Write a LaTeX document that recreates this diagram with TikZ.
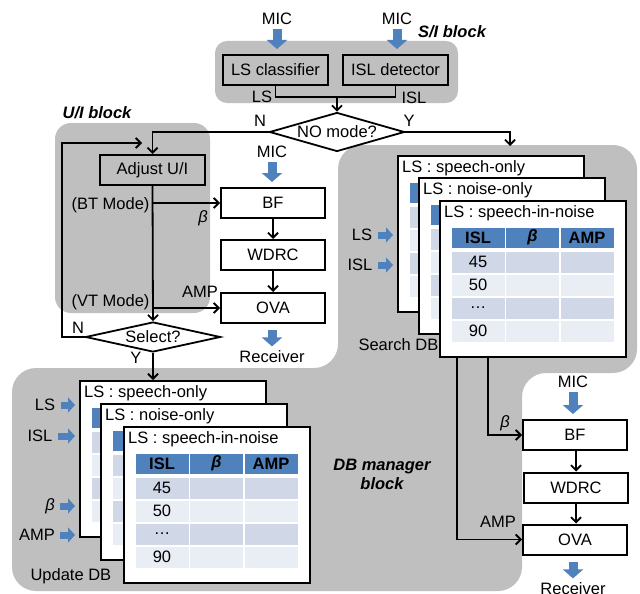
\documentclass[tikz,border=0pt]{standalone}
\usepackage{fontspec}
\setmainfont{Liberation Sans}
\usetikzlibrary{arrows.meta,shapes.geometric}

\definecolor{blockgray}{RGB}{191,191,191}
\definecolor{arrowblue}{RGB}{79,129,189}
\definecolor{headblue}{RGB}{79,129,189}
\definecolor{bandA}{RGB}{208,216,232}
\definecolor{bandB}{RGB}{233,237,244}

\newcommand{\figfont}{\fontsize{16.5}{19}\selectfont}

\tikzset{
  box/.style={draw, line width=2pt, minimum width=104pt, minimum height=30pt, inner sep=0pt},
  decision/.style={draw, diamond, line width=1.8pt, fill=white, inner sep=0pt},
  wire/.style={line width=1.8pt},
  conn/.style={line width=1.8pt, -{Straight Barb[length=5pt,width=10pt]}},
  bigarrow/.style={draw=arrowblue, line width=9pt, -{Triangle[length=9pt,width=20pt]},
    shorten <=1pt, shorten >=5pt},
  smallarrow/.style={draw=arrowblue, line width=7pt, -{Triangle[length=7pt,width=15pt]},
    shorten <=2pt, shorten >=4pt},
  dbframe/.style={draw, line width=1.5pt, fill=white, anchor=north west,
    minimum width=186pt, minimum height=156pt, inner sep=0pt},
  blockname/.style={font=\figfont\bfseries\itshape}
}

% one LS table: name, x, y (top left), LS type, 1 = write the cells
\newcommand{\dbtable}[5]{%
  \node[dbframe] (#1) at (#2,#3) {};
  \node[anchor=west, inner sep=0pt] (#1title) at (#2+5,#3+13) {LS : #4};
  \foreach \col/\head in {0/ISL, 1/\itshape β, 2/AMP} {
    \fill[headblue] (#2+12.5+54.5*\col,#3+27.5) rectangle ++(53,20);
    \ifnum#5=1
      \node[font=\figfont\bfseries] (#1h\col) at (#2+39+54.5*\col,#3+37.5) {\head};
    \fi
  }
  \foreach \row/\isl/\bandcol in {0/45/bandA, 1/50/bandB, 2/\ldots/bandA, 3/90/bandB} {
    \foreach \col in {0,1,2}
      \fill[\bandcol] (#2+12.5+54.5*\col,#3+51.5+23*\row) rectangle ++(53,21);
    \ifnum#5=1
      \node (#1r\row) at (#2+39,#3+62+23*\row) {\isl};
    \fi
  }
}

\begin{document}
\begin{tikzpicture}[x=1pt,y=-1pt,font=\figfont]
\useasboundingbox (0,0) rectangle (640,594);

% grey block backgrounds
\fill[blockgray, rounded corners=24pt] (12,368) -- (338,368) -- (338,145) -- (637,145)
  -- (637,373) -- (522,373) -- (522,591) -- (12,591) -- cycle;
\fill[blockgray, rounded corners=16pt] (55,123) rectangle (210,313);
\fill[blockgray, rounded corners=12pt] (215,41) rectangle (458,103);

% S/I block
\node[blockname] (siname) at (452,32) {S/I block};
\node (mic1) at (277,19) {MIC};
\node (mic2) at (397,19) {MIC};
\node[box, minimum width=105pt] (lscls) at (275.5,70) {LS classifier};
\node[box, minimum width=105pt] (isldet) at (395.5,70) {ISL detector};
\draw[bigarrow] (mic1.south) -- (mic1.south |- lscls.north);
\draw[bigarrow] (mic2.south) -- (mic2.south |- isldet.north);
\coordinate (sij) at (337,97);
\draw[wire] (lscls.south) |- (sij) -| (isldet.south);
\node (lslbl) at (262,97) {LS};
\node (isllbl) at (414,98) {ISL};

\node[decision, aspect=3.5, minimum width=135pt, minimum height=39pt] (nomode) at (337,132) {NO mode?};
\draw[conn] (sij) -- (nomode.north);
\node (nlbl1) at (260,121) {N};
\node (ylbl1) at (409,121) {Y};

% U/I block
\node[blockname] (uiname) at (97,113) {U/I block};
\node[box, minimum width=105pt] (adjust) at (152.5,170) {Adjust U/I};
\draw[conn] (nomode.west) -| (adjust.north);
\node[decision, aspect=4.5, minimum width=135pt, minimum height=30pt] (select) at (153,337) {Select?};
\draw[conn] (adjust.south) -- (select.north);

\node (mic3) at (272,152) {MIC};
\node[box] (bf1) at (273,203) {BF};
\node[box] (wdrc1) at (273,255) {WDRC};
\node[box] (ova1) at (273,308) {OVA};
\node (rcv1) at (272,357) {Receiver};
\draw[bigarrow] (mic3.south) -- (mic3.south |- bf1.north);
\draw[conn] (bf1) -- (wdrc1);
\draw[conn] (wdrc1) -- (ova1);
\draw[bigarrow, shorten <=6pt, shorten >=1pt] (ova1.south -| rcv1) -- (rcv1.north);

\node[anchor=east] (btmode) at (153,205) {(BT Mode)};
\draw[conn] (adjust.south |- bf1.west) -- (bf1.west);
\node (beta1) at (203,218) {\itshape β};
\node[anchor=east] (vtmode) at (153,302) {(VT Mode)};
\draw[conn] (adjust.south |- ova1.west) -- (ova1.west);
\node (amp1) at (200,292) {AMP};

\node (nlbl2) at (78,328) {N};
\node (ylbl2) at (136,358) {Y};
\coordinate (loopin) at (142,143);
\draw[conn] (select.west) -- ++(-23,0) |- (loopin);

% Search DB
\node (ls1) at (362,235) {LS};
\node (isl1) at (360,265) {ISL};
\node[anchor=west] (searchlbl) at (355,345) {Search DB};
\dbtable{s1}{397}{155}{speech-only}{0}
\dbtable{s2}{418}{177}{noise-only}{0}
\dbtable{s3}{439}{200}{speech-in-noise}{1}
\draw[smallarrow] (ls1.east) -- (ls1.east -| s1.west);
\draw[smallarrow] (isl1.east) -- (isl1.east -| s1.west);
\coordinate (sdbin) at (510,146);
\draw[conn] (nomode.east) -| (sdbin);

\node[blockname, align=center] (dbname) at (382,474) {DB manager\\block};

% path after the search
\node (mic4) at (573,382) {MIC};
\node[box] (bf2) at (575,435) {BF};
\node[box] (wdrc2) at (576,487.5) {WDRC};
\node[box] (ova2) at (575,539.5) {OVA};
\node (rcv2) at (573,589) {Receiver};
\draw[bigarrow] (mic4.south) -- (mic4.south |- bf2.north);
\draw[conn] (bf2.south -| wdrc2) -- (wdrc2.north);
\draw[conn] (wdrc2.south) -- (wdrc2.south |- ova2.north);
\draw[bigarrow, shorten <=6pt, shorten >=1pt] (ova2.south -| rcv2) -- (rcv2.north);
\draw[conn] (s3.south west) ++(49,0) |- (bf2.west);
\node (beta2) at (505,423) {\itshape β};
\draw[conn] (s3.south west) ++(18,0) |- (ova2.west);
\node (amp2) at (498,522) {AMP};

% Update DB
\node (ls2) at (45,405) {LS};
\node (isl2) at (40,436) {ISL};
\node (beta3) at (50,506) {\itshape β};
\node (amp3) at (37,535) {AMP};
\node[anchor=west] (updatelbl) at (27,576) {Update DB};
\dbtable{u1}{79}{380}{speech-only}{0}
\dbtable{u2}{100}{403}{noise-only}{0}
\dbtable{u3}{123}{426}{speech-in-noise}{1}
\foreach \lbl in {ls2,isl2,beta3,amp3}
  \draw[smallarrow] (\lbl.east) -- (\lbl.east -| u1.west);
\draw[conn] (select.south) -- (select.south |- u1.north);
\end{tikzpicture}
\end{document}
